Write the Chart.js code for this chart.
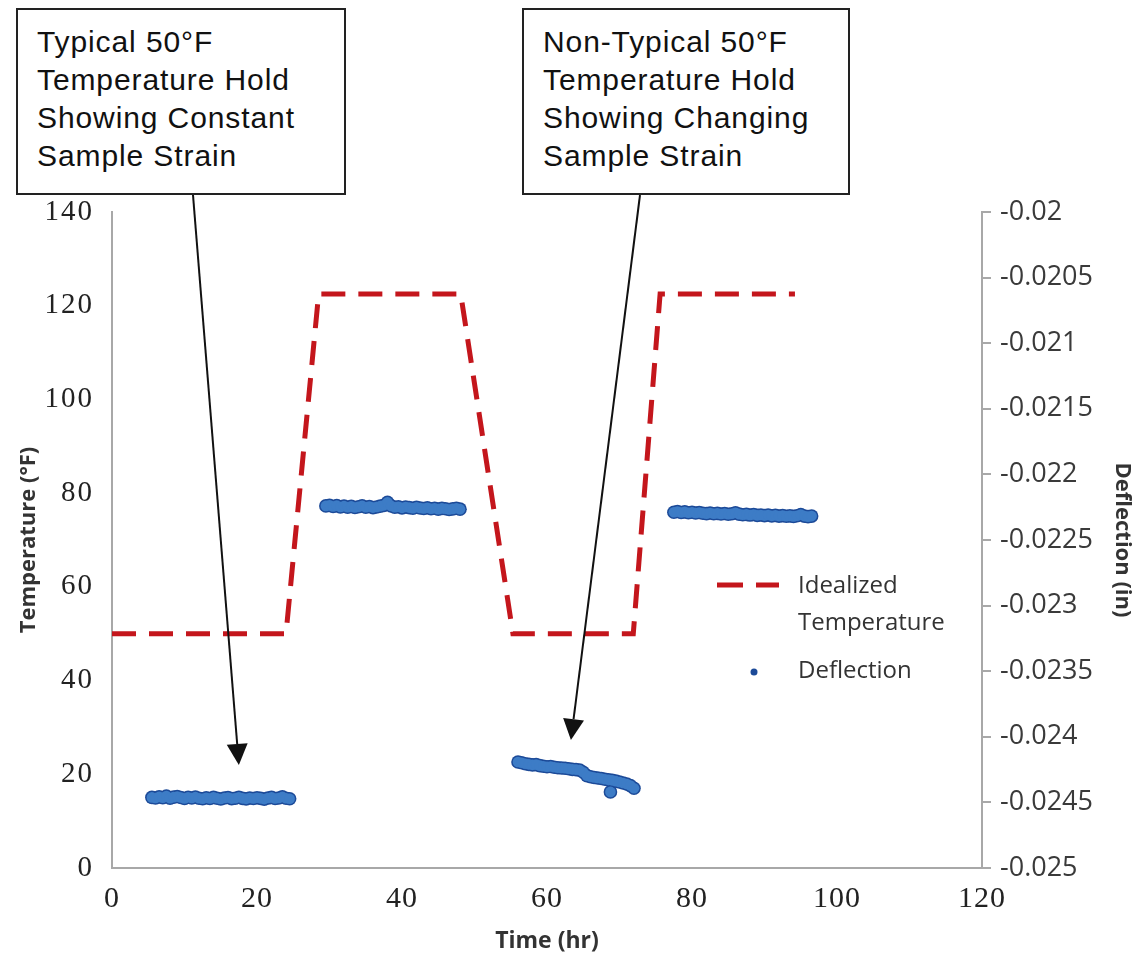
<!DOCTYPE html>
<html><head><meta charset="utf-8">
<script src="https://cdn.jsdelivr.net/npm/chart.js@4.4.0/dist/chart.umd.min.js"></script>
<style>
html,body{margin:0;padding:0;background:#fff;}
#wrap{position:relative;width:1144px;height:959px;overflow:hidden;}
canvas{position:absolute;left:0;top:0;}
.note{position:absolute;top:8px;height:187px;border:2px solid #222;box-sizing:border-box;background:#fff;
font-family:"Liberation Sans",Arial,sans-serif;font-size:30px;line-height:38px;letter-spacing:0.9px;color:#111;padding:13px 0 0 19px;z-index:2;white-space:nowrap;}
</style></head><body>
<div id="wrap">
<canvas id="c" width="1144" height="959"></canvas>
<div class="note" style="left:16px;width:330px;">Typical 50°F<br>Temperature Hold<br>Showing Constant<br>Sample Strain</div>
<div class="note" style="left:522px;width:328px;">Non-Typical 50°F<br>Temperature Hold<br>Showing Changing<br>Sample Strain</div>
</div>
<script>
// ---- data ----
const seriesNames = ['Idealized Temperature', 'Deflection'];
const xTicks = [0, 20, 40, 60, 80, 100, 120];
const tempTicks = [0, 20, 40, 60, 80, 100, 120, 140];
const deflTicks = [-0.025, -0.0245, -0.024, -0.0235, -0.023, -0.0225, -0.022, -0.0215, -0.021, -0.0205, -0.02];

const tempTime  = [0, 24, 28.5, 48.1, 55.3, 71.9, 75.6, 94.2];
const tempValue = [50, 50, 122.5, 122.5, 50, 50, 122.5, 122.5];

const d1Time = [5.5,6,6.5,7,7.5,8,8.5,9,9.5,10,10.5,11,11.5,12,12.5,13,13.5,14,14.5,15,15.5,16,16.5,17,17.5,18,18.5,19,19.5,20,20.5,21,21.5,22,22.5,23,23.5,24,24.5];
const d1Value = [-0.024462,-0.024466,-0.024458,-0.024464,-0.024452,-0.024468,-0.024460,-0.024455,-0.024463,-0.024470,-0.024461,-0.024466,-0.024459,-0.024468,-0.024472,-0.024465,-0.024470,-0.024462,-0.024468,-0.024474,-0.024466,-0.024463,-0.024471,-0.024468,-0.024461,-0.024469,-0.024473,-0.024466,-0.024470,-0.024464,-0.024469,-0.024475,-0.024467,-0.024462,-0.024470,-0.024466,-0.024458,-0.024468,-0.024472];

const d2Time = [29.5,30,30.5,31,31.5,32,32.5,33,33.5,34,34.5,35,35.5,36,36.5,37,37.5,38,38.5,39,39.5,40,40.5,41,41.5,42,42.5,43,43.5,44,44.5,45,45.5,46,46.5,47,47.5,48];
const d2Value = [-0.022240,-0.022236,-0.022245,-0.022238,-0.022248,-0.022242,-0.022250,-0.022244,-0.022252,-0.022246,-0.022240,-0.022250,-0.022245,-0.022253,-0.022248,-0.022242,-0.022236,-0.022212,-0.022240,-0.022250,-0.022246,-0.022255,-0.022249,-0.022253,-0.022258,-0.022250,-0.022256,-0.022260,-0.022254,-0.022262,-0.022258,-0.022265,-0.022259,-0.022262,-0.022268,-0.022263,-0.022258,-0.022265];

const d3Time = [56,56.5,57,57.5,58,58.5,59,59.5,60,60.5,61,61.5,62,62.5,63,63.5,64,64.5,65,65.5,66,66.5,67,67.5,68,68.5,68.75,69,69.5,70,70.5,71,71.5,72];
const d3Value = [-0.024192,-0.024198,-0.024205,-0.024210,-0.024214,-0.024212,-0.024220,-0.024224,-0.024228,-0.024226,-0.024232,-0.024236,-0.024238,-0.024240,-0.024244,-0.024248,-0.024250,-0.024254,-0.024270,-0.024296,-0.024304,-0.024310,-0.024314,-0.024318,-0.024324,-0.024328,-0.024420,-0.024332,-0.024338,-0.024345,-0.024352,-0.024360,-0.024372,-0.024392];

const d4Time = [77.5,78,78.5,79,79.5,80,80.5,81,81.5,82,82.5,83,83.5,84,84.5,85,85.5,86,86.5,87,87.5,88,88.5,89,89.5,90,90.5,91,91.5,92,92.5,93,93.5,94,94.5,95,95.5,96,96.5];
const d4Value = [-0.022288,-0.022283,-0.022290,-0.022286,-0.022292,-0.022288,-0.022294,-0.022290,-0.022296,-0.022299,-0.022294,-0.022300,-0.022297,-0.022302,-0.022298,-0.022304,-0.022300,-0.022292,-0.022303,-0.022308,-0.022305,-0.022310,-0.022306,-0.022312,-0.022309,-0.022314,-0.022310,-0.022316,-0.022312,-0.022318,-0.022314,-0.022319,-0.022316,-0.022320,-0.022315,-0.022306,-0.022318,-0.022322,-0.022318];

// annotation arrow tips (time, temperature)
const arrowTipTime = [17.5, 63.3];
const arrowTipTemp = [22, 27.3];

// ---- build ----
const pts = (t, v) => t.map((x, i) => ({x: x, y: v[i]}));
const deflPts = [].concat(pts(d1Time, d1Value), pts(d2Time, d2Value), pts(d3Time, d3Value), pts(d4Time, d4Value));
const tempPts = pts(tempTime, tempValue);

const RED = '#C4161C';
const BLUE_DARK = '#1C4A98';
const BLUE = '#3D7CC6';
const AXIS = '#A8A8A8';

const spacing = {x: '1px', y: '2px'};

const annotPlugin = {
  id: 'annot',
  beforeDraw(chart) {
    Object.keys(spacing).forEach(id => {
      const s = chart.scales[id];
      if (s && !s._lsPatched) {
        const orig = s.drawLabels.bind(s);
        s.drawLabels = function (ca) {
          const c = this.ctx; c.save(); c.letterSpacing = spacing[id]; orig(ca); c.restore();
        };
        s._lsPatched = true;
      }
    });
  },
  afterDraw(chart) {
    const ctx = chart.ctx, xs = chart.scales.x, ys = chart.scales.y;
    ctx.save();
    ctx.letterSpacing = '0px';
    // legend
    ctx.strokeStyle = RED; ctx.lineWidth = 5; ctx.setLineDash([26, 13]);
    ctx.beginPath(); ctx.moveTo(717, 585); ctx.lineTo(779, 585); ctx.stroke();
    ctx.setLineDash([]);
    ctx.fillStyle = BLUE_DARK;
    ctx.beginPath(); ctx.arc(754, 672, 3.5, 0, Math.PI * 2); ctx.fill();
    ctx.fillStyle = '#333';
    ctx.font = '24px "Open Sans"';
    ctx.textBaseline = 'alphabetic'; ctx.textAlign = 'left';
    const w = seriesNames[0].split(' ');
    ctx.fillText(w[0], 798, 593);
    ctx.fillText(w[1], 798, 630);
    ctx.fillText(seriesNames[1], 798, 678);
    // arrows
    const starts = [[193, 195], [640, 195]];
    ctx.strokeStyle = '#111'; ctx.fillStyle = '#111'; ctx.lineWidth = 2;
    for (let i = 0; i < 2; i++) {
      const tx = xs.getPixelForValue(arrowTipTime[i]);
      const ty = ys.getPixelForValue(arrowTipTemp[i]);
      const sx = starts[i][0], sy = starts[i][1];
      const ang = Math.atan2(ty - sy, tx - sx);
      const L = 21, H = 10.5;
      const bx = tx - L * Math.cos(ang), by = ty - L * Math.sin(ang);
      ctx.beginPath(); ctx.moveTo(sx, sy); ctx.lineTo(bx, by); ctx.stroke();
      ctx.beginPath();
      ctx.moveTo(tx, ty);
      ctx.lineTo(bx + H * Math.sin(ang), by - H * Math.cos(ang));
      ctx.lineTo(bx - H * Math.sin(ang), by + H * Math.cos(ang));
      ctx.closePath(); ctx.fill();
    }
    ctx.restore();
  }
};

new Chart(document.getElementById('c'), {
  type: 'scatter',
  data: {
    datasets: [
      {label: seriesNames[0], type: 'line', data: tempPts, yAxisID: 'y', borderColor: RED, borderWidth: 5,
       borderDash: [24, 13], pointRadius: 0, fill: false, tension: 0, order: 3},
      {label: seriesNames[1], data: deflPts, yAxisID: 'y2', pointRadius: 6.8, backgroundColor: BLUE_DARK,
       borderWidth: 0, order: 2},
      {label: seriesNames[1] + ' fill', data: deflPts, yAxisID: 'y2', pointRadius: 5.3, backgroundColor: BLUE,
       borderWidth: 0, order: 1}
    ]
  },
  options: {
    responsive: false,
    animation: false,
    layout: {padding: {top: 212, left: 0, right: 0, bottom: 0}},
    plugins: {legend: {display: false}, tooltip: {enabled: false}},
    scales: {
      x: {
        type: 'linear', min: 0, max: 120,
        afterBuildTicks: s => { s.ticks = xTicks.map(v => ({value: v})); },
        afterFit: s => { s.height = 91; },
        grid: {display: false, drawTicks: false},
        border: {display: true, color: AXIS, width: 2},
        ticks: {color: '#222', padding: 13, font: {family: '"Liberation Serif", serif', size: 30}, maxRotation: 0},
        title: {display: true, text: 'Time (hr)', color: '#333', font: {family: '"Open Sans"', size: 23, weight: 'bold'}, padding: {top: 0, bottom: 4}}
      },
      y: {
        type: 'linear', position: 'left', min: 0, max: 140,
        afterBuildTicks: s => { s.ticks = tempTicks.map(v => ({value: v})); },
        afterFit: s => { s.width = 112; },
        grid: {display: false, drawTicks: false},
        border: {display: true, color: AXIS, width: 2},
        ticks: {color: '#222', padding: 18, font: {family: '"Liberation Serif", serif', size: 29}},
        title: {display: true, text: 'Temperature (°F)', color: '#333', font: {family: '"Open Sans"', size: 22, weight: 'bold'}, padding: {top: 16, bottom: 0}}
      },
      y2: {
        type: 'linear', position: 'right', min: -0.025, max: -0.02,
        afterBuildTicks: s => { s.ticks = deflTicks.map(v => ({value: v})); },
        afterFit: s => { s.width = 162; },
        grid: {display: true, drawOnChartArea: false, drawTicks: true, tickLength: 9, color: AXIS, lineWidth: 2},
        border: {display: true, color: AXIS, width: 2},
        ticks: {color: '#3a3a3a', padding: 9, font: {family: '"Open Sans"', size: 27},
                callback: v => String(Number(v.toFixed(4)))},
        title: {display: true, text: 'Deflection (in)', color: '#333', font: {family: '"Open Sans"', size: 22, weight: 'bold'}, padding: {top: 9, bottom: 0}}
      }
    }
  },
  plugins: [annotPlugin]
});
</script>
</body></html>
